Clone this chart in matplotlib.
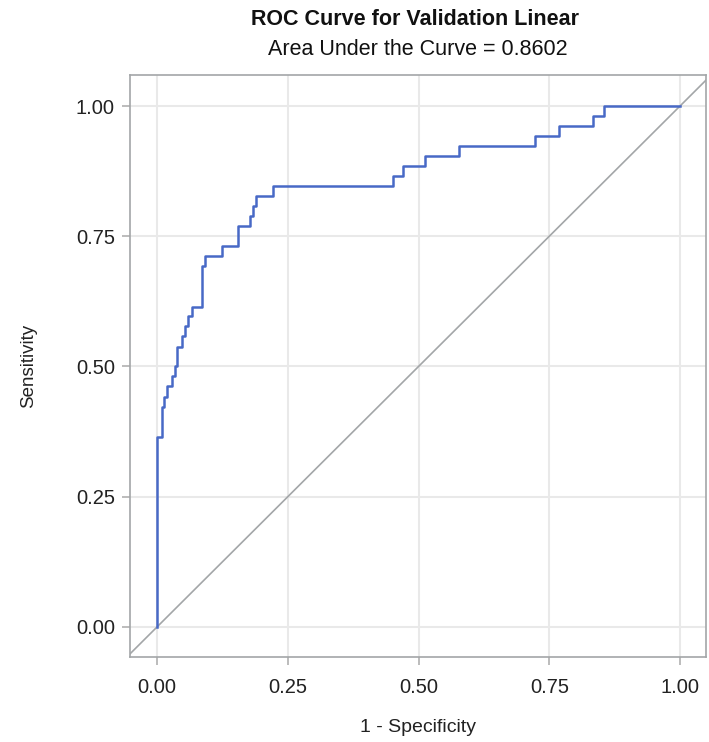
import matplotlib
matplotlib.use("Agg")
import matplotlib.pyplot as plt

plt.rcParams['font.family'] = ['Liberation Sans', 'DejaVu Sans']

# ROC staircase corners: (1 - specificity, sensitivity) after each vertical jump
fpr = [0.0, 0.0, 0.009, 0.013, 0.020, 0.028, 0.034, 0.039, 0.047, 0.054, 0.060, 0.066,
       0.0855, 0.092, 0.124, 0.155, 0.177, 0.183, 0.189, 0.222, 0.452, 0.471, 0.512,
       0.578, 0.723, 0.769, 0.834, 0.855, 1.0]
tpr = [0.0, 0.365, 0.423, 0.442, 0.462, 0.481, 0.500, 0.538, 0.558, 0.577, 0.596, 0.615,
       0.692, 0.712, 0.731, 0.769, 0.788, 0.808, 0.827, 0.846, 0.865, 0.885, 0.904,
       0.923, 0.942, 0.962, 0.981, 1.0, 1.0]
ticks = [0.0, 0.25, 0.5, 0.75, 1.0]
tick_labels = ["0.00", "0.25", "0.50", "0.75", "1.00"]
auc = 0.8602

fig = plt.figure(figsize=(7.09, 7.42), dpi=100)
ax = fig.add_axes([0.1834, 0.1146, 0.8124, 0.7843])

ax.axline((0, 0), (1, 1), color='#a3a6a8', linewidth=1.2, zorder=2)
ax.plot(fpr, tpr, drawstyle='steps-post', color='#4869c6', linewidth=1.8, zorder=3)

ax.set_xlim(-0.0516, 1.0497)
ax.set_ylim(-0.0576, 1.0595)
ax.set_xticks(ticks)
ax.set_xticklabels(tick_labels)
ax.set_yticks(ticks)
ax.set_yticklabels(tick_labels)
ax.grid(True, color='#e9e9e9', linewidth=1.5, zorder=0)
ax.set_axisbelow(True)
ax.tick_params(axis='both', labelsize=14.5, colors='#b0b0b0', labelcolor='#222222',
               length=6, width=1.2)
ax.tick_params(axis='x', pad=9)
ax.tick_params(axis='y', pad=5)
for s in ax.spines.values():
    s.set_color('#a3a6a8')
    s.set_linewidth(1.2)

ax.set_xlabel("1 - Specificity", fontsize=14, color='#222222', labelpad=16)
ax.set_ylabel("Sensitivity", fontsize=13.5, color='#222222', labelpad=28)

fig.text(0.586, 0.988, "ROC Curve for Validation Linear", ha='center', va='top',
         fontsize=15.5, fontweight='bold', color='#111111')
fig.text(0.589, 0.948, f"Area Under the Curve = {auc:.4f}", ha='center', va='top',
         fontsize=15.5, color='#111111')

fig.savefig("out.png", dpi=100)
